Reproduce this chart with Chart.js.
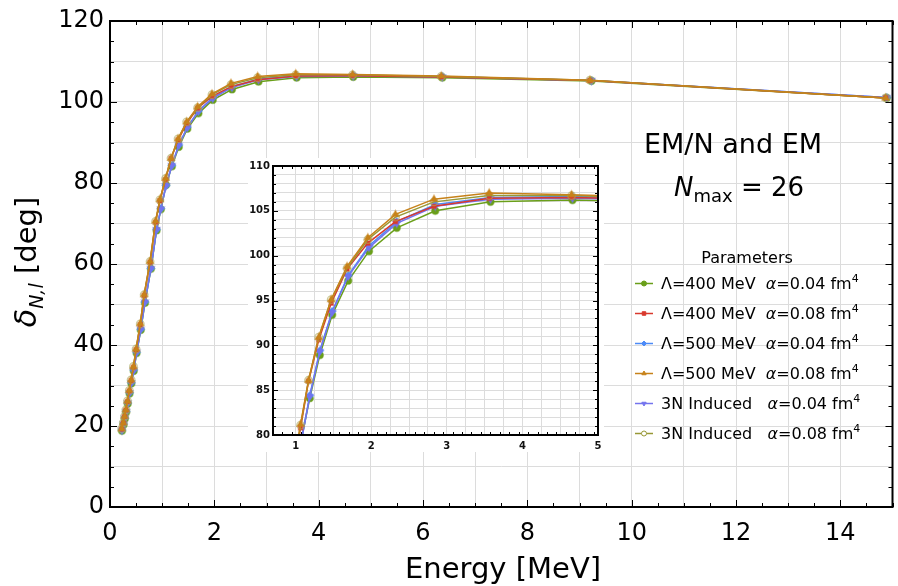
<!DOCTYPE html>
<html>
<head>
<meta charset="utf-8">
<script src="https://cdn.jsdelivr.net/npm/chart.js@4.4.1/dist/chart.umd.min.js"></script>
<style>
  html, body { margin: 0; padding: 0; background: #fff; }
  #wrap { position: relative; width: 898px; height: 586px; }
  #mainChart { position: absolute; left: 0; top: 0; }
  #insetChart { position: absolute; left: 248px; top: 158px; background: #fff; }
</style>
</head>
<body>
<div id="wrap">
  <canvas id="mainChart" width="898" height="586"></canvas>
  <canvas id="insetChart" width="356" height="294"></canvas>
</div>
<script>
/* =========================
   DATA
========================= */

// energies [MeV] for the alpha = 0.04 fm^4 runs
const energyA = [0.23, 0.26, 0.285, 0.31, 0.34, 0.375, 0.41, 0.455, 0.51, 0.59, 0.67, 0.785, 0.893, 0.975,
                 1.075, 1.186, 1.319, 1.483, 1.695, 1.97, 2.338, 2.847, 3.578, 4.663, 6.37, 9.23, 14.89];
// energies [MeV] for the alpha = 0.08 fm^4 runs
const energyB = [0.225, 0.255, 0.28, 0.305, 0.335, 0.37, 0.405, 0.45, 0.50, 0.58, 0.655, 0.768, 0.874, 0.956,
                 1.065, 1.17, 1.305, 1.47, 1.68, 1.955, 2.32, 2.83, 3.56, 4.65, 6.35, 9.2, 14.87];

// phase shifts [deg]
const lam400a04 = [18.8, 20.3, 21.8, 23.4, 25.5, 28.0, 30.5, 33.6, 38.0, 43.7, 50.4, 58.8, 68.3, 73.5,
                   79.5, 84.1, 88.9, 93.4, 97.2, 100.5, 103.1, 105.0, 106.0, 106.2, 106.0, 105.2, 101.0];
const lam400a08 = [19.2, 20.7, 22.3, 23.9, 26.0, 28.6, 31.2, 34.5, 38.8, 45.0, 52.2, 60.4, 70.3, 75.6,
                   80.8, 86.0, 90.6, 94.7, 98.5, 101.4, 103.8, 105.5, 106.4, 106.5, 106.2, 105.3, 101.0];
const lam500a04 = [19.0, 20.5, 22.0, 23.6, 25.7, 28.2, 30.7, 33.8, 38.2, 43.9, 50.6, 58.9, 68.5, 73.7,
                   79.4, 84.4, 89.4, 93.8, 97.8, 101.1, 103.8, 105.7, 106.5, 106.6, 106.3, 105.3, 101.1];
const lam500a08 = [19.3, 20.8, 22.4, 24.0, 26.2, 28.8, 31.4, 34.7, 39.0, 45.3, 52.5, 60.7, 70.6, 75.9,
                   81.2, 86.1, 90.9, 95.1, 98.8, 102.0, 104.6, 106.3, 107.0, 106.8, 106.4, 105.4, 101.0];
const ind3Na04  = [19.0, 20.5, 22.0, 23.6, 25.7, 28.2, 30.7, 33.8, 38.2, 43.9, 50.6, 58.9, 68.5, 73.6,
                   79.3, 84.3, 89.3, 93.7, 97.7, 100.9, 103.6, 105.5, 106.3, 106.4, 106.2, 105.3, 101.1];
const ind3Na08  = [19.3, 20.8, 22.4, 24.0, 26.2, 28.8, 31.4, 34.7, 39.0, 45.2, 52.4, 60.6, 70.5, 75.8,
                   81.1, 86.1, 90.9, 95.1, 98.6, 101.8, 104.3, 106.0, 106.7, 106.7, 106.3, 105.4, 101.0];

const legendNames = ["Λ=400 MeV  ", "Λ=400 MeV  ", "Λ=500 MeV  ", "Λ=500 MeV  ", "3N Induced   ", "3N Induced   "];
const legendAlpha = ["0.04", "0.08", "0.04", "0.08", "0.04", "0.08"];

const mainXTicks = [0, 2, 4, 6, 8, 10, 12, 14];
const mainYTicks = [0, 20, 40, 60, 80, 100, 120];
const insetXTicks = [1, 2, 3, 4, 5];
const insetYTicks = [80, 85, 90, 95, 100, 105, 110];

/* =========================
   STYLES
========================= */

const FONT = "DejaVu Sans";

// order: lower number is drawn on top
const seriesStyle = [
    { color: "#6a9f1a", halo: "rgba(106,159,26,0.45)",  style: "circle",   radius: 3.6, rot: 0,   open: false, order: 6 },
    { color: "#d9392d", halo: "rgba(217,57,45,0.45)",   style: "rect",     radius: 3,   rot: 0,   open: false, order: 3 },
    { color: "#4d8bf7", halo: "rgba(77,139,247,0.45)",  style: "rectRot",  radius: 3.8, rot: 0,   open: false, order: 5 },
    { color: "#c7821a", halo: "rgba(199,130,26,0.45)",  style: "triangle", radius: 4,   rot: 0,   open: false, order: 1 },
    { color: "#7474ee", halo: "rgba(116,116,238,0.45)", style: "triangle", radius: 4,   rot: 180, open: false, order: 4 },
    { color: "#989836", halo: "rgba(170,170,90,0.6)",   style: "circle",   radius: 3.8, rot: 0,   open: true,  order: 2 }
];

const seriesData = [
    [energyA, lam400a04],
    [energyB, lam400a08],
    [energyA, lam500a04],
    [energyB, lam500a08],
    [energyA, ind3Na04],
    [energyB, ind3Na08]
];

function buildDatasets() {
    return seriesData.map((pair, i) => {
        let s = seriesStyle[i];
        return {
            data: pair[0].map((e, k) => ({ x: e, y: pair[1][k] })),
            borderColor: s.color,
            backgroundColor: s.color,
            borderWidth: 1.5,
            pointStyle: s.style,
            pointRotation: s.rot,
            pointRadius: s.radius,
            pointBorderColor: s.halo,
            pointBorderWidth: s.open ? 1.3 : 1.5,
            pointBackgroundColor: s.open ? "rgba(255,255,255,0)" : s.color,
            order: s.order,
            tension: 0
        };
    });
}

/* =========================
   HELPERS
========================= */

// draw a row of text pieces with their own fonts / baseline shifts
function drawRuns(ctx, runs, x, y) {
    let cx = x;
    runs.forEach(r => {
        ctx.font = r.font;
        ctx.fillText(r.t, cx, y + (r.dy || 0));
        cx += ctx.measureText(r.t).width;
    });
    return cx;
}

function runsWidth(ctx, runs) {
    let w = 0;
    runs.forEach(r => { ctx.font = r.font; w += ctx.measureText(r.t).width; });
    return w;
}

// keep the plot box exactly where we want it
function fixX(h) {
    return s => { s.height = h; s.paddingLeft = 0; s.paddingRight = 0; };
}
function fixY(w) {
    return s => { s.width = w; s.paddingTop = 0; s.paddingBottom = 0; };
}

// frame + inward ticks on all four sides
function framePlugin(cfg) {
    return {
        id: "frame",
        afterDatasetsDraw(chart) {
            let ctx = chart.ctx, a = chart.chartArea;
            let xs = chart.scales.x, ys = chart.scales.y;
            ctx.save();
            ctx.strokeStyle = "#000";
            ctx.lineWidth = 1;
            ctx.beginPath();
            for (let v = xs.min; v <= xs.max + 1e-9; v += cfg.xMinor) {
                let p = Math.round(xs.getPixelForValue(v)) + 0.5;
                let major = Math.abs(v / cfg.xMajor - Math.round(v / cfg.xMajor)) < 1e-6;
                let len = major ? cfg.majorLen : cfg.minorLen;
                ctx.moveTo(p, a.bottom); ctx.lineTo(p, a.bottom - len);
                ctx.moveTo(p, a.top); ctx.lineTo(p, a.top + len);
            }
            for (let v = ys.min; v <= ys.max + 1e-9; v += cfg.yMinor) {
                let p = Math.round(ys.getPixelForValue(v)) + 0.5;
                let major = Math.abs(v / cfg.yMajor - Math.round(v / cfg.yMajor)) < 1e-6;
                let len = major ? cfg.majorLen : cfg.minorLen;
                ctx.moveTo(a.left, p); ctx.lineTo(a.left + len, p);
                ctx.moveTo(a.right, p); ctx.lineTo(a.right - len, p);
            }
            ctx.stroke();
            ctx.lineWidth = cfg.frameWidth;
            ctx.strokeRect(a.left, a.top, a.right - a.left, a.bottom - a.top);
            ctx.restore();
        }
    };
}

/* =========================
   MAIN CHART TEXT
========================= */

const mainText = {
    id: "mainText",
    afterDraw(chart) {
        let ctx = chart.ctx;
        ctx.save();
        ctx.fillStyle = "#000";
        ctx.textBaseline = "alphabetic";

        // x title
        ctx.font = "29px '" + FONT + "'";
        ctx.textAlign = "center";
        ctx.fillText("Energy [MeV]", 503, 578);
        ctx.textAlign = "left";

        // y title (rotated)
        let yRuns = [
            { t: "δ", font: "italic 30px '" + FONT + "'" },
            { t: "N,l", font: "italic 19px '" + FONT + "'", dy: 7 },
            { t: " [deg]", font: "29px '" + FONT + "'" }
        ];
        ctx.save();
        ctx.translate(36, 262);
        ctx.rotate(-Math.PI / 2);
        drawRuns(ctx, yRuns, -runsWidth(ctx, yRuns) / 2, 0);
        ctx.restore();

        // annotation
        ctx.font = "27px '" + FONT + "'";
        ctx.textAlign = "center";
        ctx.fillText("EM/N and EM", 733, 153);
        ctx.textAlign = "left";
        let nRuns = [
            { t: "N", font: "italic 26px '" + FONT + "'" },
            { t: "max", font: "18px '" + FONT + "'", dy: 6 },
            { t: " = 26", font: "26px '" + FONT + "'" }
        ];
        drawRuns(ctx, nRuns, 739 - runsWidth(ctx, nRuns) / 2, 196);

        // legend
        ctx.font = "16px '" + FONT + "'";
        ctx.textAlign = "center";
        ctx.fillText("Parameters", 747, 263);
        ctx.textAlign = "left";
        seriesStyle.forEach((s, i) => {
            let y = 283 + i * 30;
            ctx.strokeStyle = s.color;
            ctx.lineWidth = 1.5;
            ctx.beginPath();
            ctx.moveTo(635, y + 0.5); ctx.lineTo(653, y + 0.5);
            ctx.stroke();
            ctx.fillStyle = s.open ? "#ffffff" : s.color;
            ctx.strokeStyle = s.color;
            ctx.lineWidth = 1;
            Chart.helpers.drawPoint(ctx, {
                pointStyle: s.style, radius: 2.5, rotation: s.rot, borderWidth: 1
            }, 644, y + 0.5);
            ctx.fillStyle = "#000";
            let runs = [
                { t: legendNames[i], font: "16px '" + FONT + "'" },
                { t: "α", font: "italic 16px '" + FONT + "'" },
                { t: "=" + legendAlpha[i] + " fm", font: "16px '" + FONT + "'" },
                { t: "4", font: "11px '" + FONT + "'", dy: -7 }
            ];
            drawRuns(ctx, runs, 661, y + 6);
        });
        ctx.restore();
    }
};

/* =========================
   MAIN CHART
========================= */

new Chart(document.getElementById("mainChart"), {
    type: "line",
    data: { datasets: buildDatasets() },
    options: {
        responsive: false,
        animation: false,
        events: [],
        layout: { padding: { left: 0, top: 21, right: 2, bottom: 0 } },
        plugins: { legend: { display: false }, tooltip: { enabled: false } },
        scales: {
            x: {
                type: "linear", min: 0, max: 15,
                afterFit: fixX(79),
                border: { display: false },
                grid: { color: "#dcdcdc", lineWidth: 1, drawTicks: false },
                ticks: {
                    stepSize: 1, padding: 12, autoSkip: false, maxRotation: 0, color: "#000",
                    font: { family: FONT, size: 24 },
                    callback: v => mainXTicks.includes(v) ? String(v) : ""
                }
            },
            y: {
                type: "linear", min: 0, max: 120,
                afterFit: fixY(110),
                border: { display: false },
                grid: { color: "#dcdcdc", lineWidth: 1, drawTicks: false },
                ticks: {
                    stepSize: 10, padding: 6, autoSkip: false, color: "#000",
                    font: { family: FONT, size: 24 },
                    callback: v => mainYTicks.includes(v) ? String(v) : ""
                }
            }
        }
    },
    plugins: [framePlugin({ xMinor: 0.5, xMajor: 2, yMinor: 5, yMajor: 20, majorLen: 7, minorLen: 4, frameWidth: 2 }), mainText]
});

/* =========================
   INSET CHART
========================= */

new Chart(document.getElementById("insetChart"), {
    type: "line",
    data: { datasets: buildDatasets() },
    options: {
        responsive: false,
        animation: false,
        events: [],
        layout: { padding: { left: 0, top: 8, right: 6, bottom: 0 } },
        plugins: { legend: { display: false }, tooltip: { enabled: false } },
        scales: {
            x: {
                type: "linear", min: 0.7, max: 5,
                afterFit: fixX(17),
                border: { display: false },
                grid: { color: "#dcdcdc", lineWidth: 1, drawTicks: false },
                ticks: {
                    stepSize: 0.25, padding: 5, autoSkip: false, maxRotation: 0, color: "#111",
                    font: { family: FONT, size: 10, weight: "bold" },
                    callback: v => insetXTicks.includes(Math.round(v * 100) / 100) ? String(Math.round(v)) : ""
                }
            },
            y: {
                type: "linear", min: 80, max: 110,
                afterFit: fixY(25),
                border: { display: false },
                grid: { color: "#dcdcdc", lineWidth: 1, drawTicks: false },
                ticks: {
                    stepSize: 1, padding: 3, autoSkip: false, color: "#111",
                    font: { family: FONT, size: 10, weight: "bold" },
                    callback: v => insetYTicks.includes(v) ? String(v) : ""
                }
            }
        }
    },
    plugins: [framePlugin({ xMinor: 0.125, xMajor: 1, yMinor: 1, yMajor: 5, majorLen: 5, minorLen: 3, frameWidth: 2 })]
});
</script>
</body>
</html>
